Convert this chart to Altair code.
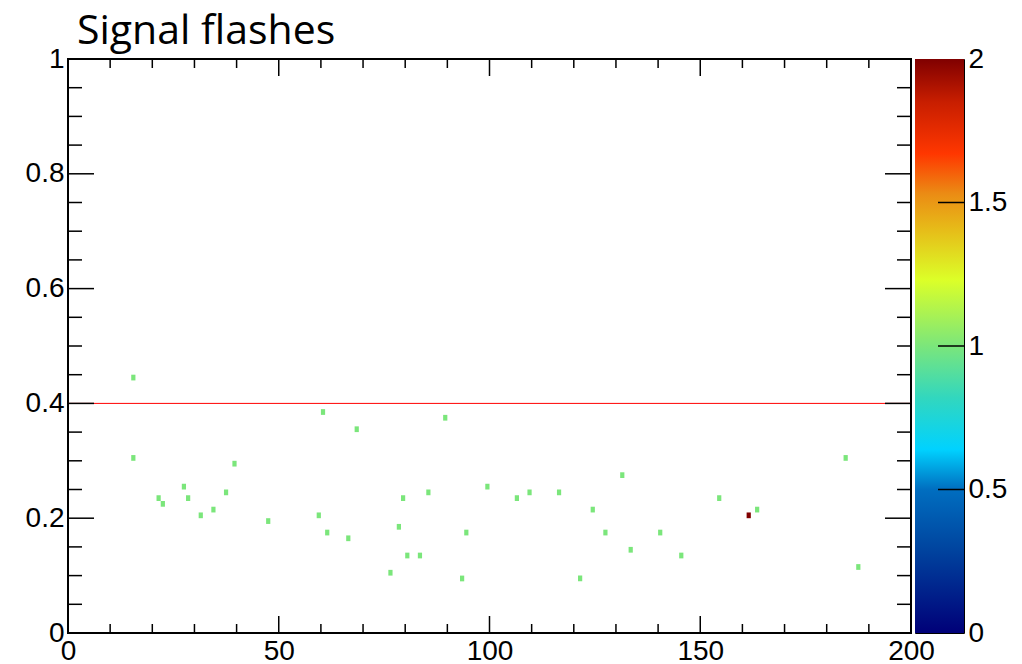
import altair as alt
import pandas as pd

# Occupied bins of the 2D histogram: lower edge of each bin and its content
x_bins = [15, 15, 21, 22, 27, 28, 31, 34, 37, 39, 47, 59, 60, 61, 66, 68, 76, 78,
          79, 80, 83, 85, 89, 93, 94, 99, 106, 109, 116, 121, 124, 127, 131, 133,
          140, 145, 154, 161, 163, 184, 187]
y_bins = [0.44, 0.30, 0.23, 0.22, 0.25, 0.23, 0.20, 0.21, 0.24, 0.29, 0.19, 0.20,
          0.38, 0.17, 0.16, 0.35, 0.10, 0.18, 0.23, 0.13, 0.13, 0.24, 0.37, 0.09,
          0.17, 0.25, 0.23, 0.24, 0.24, 0.09, 0.21, 0.17, 0.27, 0.14, 0.17, 0.13,
          0.23, 0.20, 0.21, 0.30, 0.11]
counts = [1, 1, 1, 1, 1, 1, 1, 1, 1, 1, 1, 1, 1, 1, 1, 1, 1, 1, 1, 1, 1, 1, 1, 1,
          1, 1, 1, 1, 1, 1, 1, 1, 1, 1, 1, 1, 1, 2, 1, 1, 1]
x_bin_width = 1
y_bin_width = 0.01

threshold = [0.4]

# Axis ticks
x_major = [0, 50, 100, 150, 200]
x_minor = [10, 20, 30, 40, 60, 70, 80, 90, 110, 120, 130, 140, 160, 170, 180, 190]
y_major = [0, 0.2, 0.4, 0.6, 0.8, 1]
y_minor = [0.05, 0.1, 0.15, 0.25, 0.3, 0.35, 0.45, 0.5, 0.55, 0.65, 0.7, 0.75,
           0.85, 0.9, 0.95]
z_labels = [0, 0.5, 1, 1.5, 2]
z_ticks = [0.5, 1, 1.5]

# Palette stops (value -> colour)
stop_values = [0, 0.3, 0.5, 0.64, 0.82, 1.0, 1.23, 1.4, 1.53, 1.67, 1.85, 2.0]
stop_colors = ["#000078", "#0046a0", "#006ec0", "#00d2ff", "#32d7be", "#7be67b",
               "#dcff28", "#e6be19", "#eb8c14", "#ff3700", "#c81e00", "#800000"]

W, H = 843, 574
CB_W = 49
FONT = "Liberation Sans"
LABEL_SIZE = 28

df = pd.DataFrame({
    "x": x_bins,
    "x2": [v + x_bin_width for v in x_bins],
    "y": y_bins,
    "y2": [round(v + y_bin_width, 4) for v in y_bins],
    "count": counts,
})

xscale = alt.Scale(domain=[0, 200], nice=False, zero=False)
yscale = alt.Scale(domain=[0, 1], nice=False, zero=False)
zscale = alt.Scale(domain=stop_values, range=stop_colors, type="linear")

cells = alt.Chart(df).mark_rect().encode(
    x=alt.X("x:Q", scale=xscale,
            axis=alt.Axis(values=x_major, ticks=False, domain=False, grid=False,
                          title=None, labelFontSize=LABEL_SIZE, labelFont=FONT,
                          labelColor="black", labelPadding=4, labelFlush=False)),
    x2="x2:Q",
    y=alt.Y("y:Q", scale=yscale,
            axis=alt.Axis(values=y_major, ticks=False, domain=False, grid=False,
                          title=None, format="~g", labelFontSize=LABEL_SIZE,
                          labelFont=FONT, labelColor="black", labelPadding=4,
                          labelFlush=False, minExtent=62, maxExtent=62)),
    y2="y2:Q",
    color=alt.Color("count:Q", scale=zscale, legend=None),
)

line = alt.Chart(pd.DataFrame({"y": threshold})).mark_rule(
    color="#ff0000", strokeWidth=1
).encode(y=alt.Y("y:Q", scale=yscale), x=alt.value(0), x2=alt.value(W))


def xticks(values, length):
    d = pd.DataFrame({"v": values})
    bottom = alt.Chart(d).mark_rule(color="black", strokeWidth=1.5).encode(
        x=alt.X("v:Q", scale=xscale), y=alt.value(H), y2=alt.value(H - length))
    top = alt.Chart(d).mark_rule(color="black", strokeWidth=1.5).encode(
        x=alt.X("v:Q", scale=xscale), y=alt.value(0), y2=alt.value(length))
    return [bottom, top]


def yticks(values, length):
    d = pd.DataFrame({"v": values})
    left = alt.Chart(d).mark_rule(color="black", strokeWidth=1.5).encode(
        y=alt.Y("v:Q", scale=yscale), x=alt.value(0), x2=alt.value(length))
    right = alt.Chart(d).mark_rule(color="black", strokeWidth=1.5).encode(
        y=alt.Y("v:Q", scale=yscale), x=alt.value(W - length), x2=alt.value(W))
    return [left, right]


main = alt.layer(
    cells, line,
    *xticks(x_major, 17), *xticks(x_minor, 9),
    *yticks(y_major, 26), *yticks(y_minor, 14),
).properties(
    width=W, height=H,
    title=alt.TitleParams(text="Signal flashes", anchor="start", frame="group",
                          font="Open Sans", fontSize=41, fontWeight="normal",
                          color="black", dx=9, offset=-8),
    view=alt.ViewBackground(stroke="black", strokeWidth=2),
)

# Colour bar: one rectangle filled with the palette gradient
cb_scale = alt.Scale(domain=[0, 2], nice=False, zero=False)
gradient = alt.LinearGradient(
    gradient="linear",
    stops=[alt.GradientStop(offset=v / 2, color=c) for v, c in zip(stop_values, stop_colors)],
    x1=0, x2=0, y1=1, y2=0,
)
bar = alt.Chart(pd.DataFrame({"lo": [0], "hi": [2]})).mark_rect(
    color=gradient
).encode(
    y=alt.Y("lo:Q", scale=cb_scale,
            axis=alt.Axis(orient="right", values=z_labels, ticks=False, domain=False,
                          grid=False, title=None, format="~g",
                          labelFontSize=LABEL_SIZE, labelFont=FONT,
                          labelColor="black", labelPadding=4, labelFlush=False)),
    y2="hi:Q",
    x=alt.value(0), x2=alt.value(CB_W),
)
bar_ticks = alt.Chart(pd.DataFrame({"v": z_ticks})).mark_rule(
    color="black", strokeWidth=1.5
).encode(y=alt.Y("v:Q", scale=cb_scale), x=alt.value(CB_W - 26), x2=alt.value(CB_W))

colorbar = alt.layer(bar, bar_ticks).properties(
    width=CB_W, height=H,
    view=alt.ViewBackground(stroke="black", strokeWidth=1),
)

chart = alt.hconcat(main, colorbar, spacing=4, bounds="flush").properties(
    padding={"left": 5, "top": 10, "right": 5, "bottom": 0}
).configure(background="white")

chart.save("out.html", embed_options={"renderer": "svg", "actions": False})
